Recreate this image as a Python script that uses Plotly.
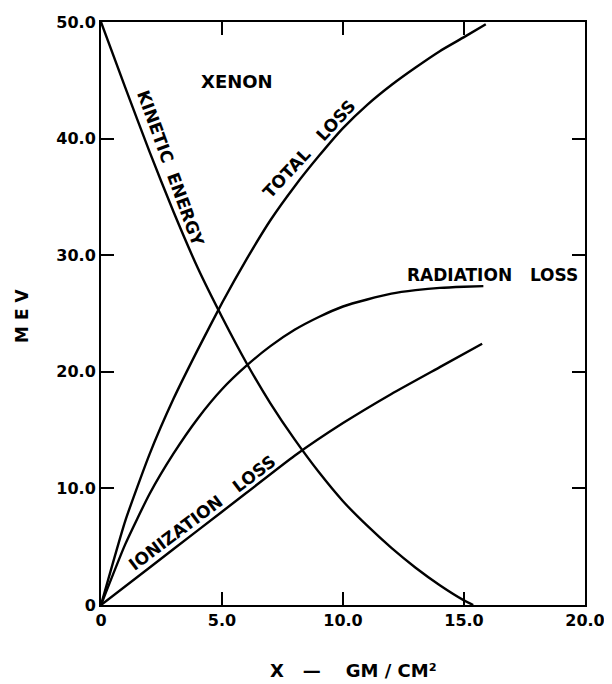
import plotly.graph_objects as go

# Data (x in gm/cm^2, energy in MeV)
ke_x = [0, 1, 2, 3, 4, 5, 6, 7, 8, 9, 10, 11, 12, 13, 14, 15, 15.38]
ke_y = [50, 44.4, 38.9, 33.7, 28.9, 24.7, 20.8, 17.3, 14.2, 11.4, 8.9, 6.8, 4.9, 3.2, 1.7, 0.4, 0]

total_x = [0, 1, 2, 3, 4, 5, 6, 7, 8, 9, 10, 11, 12, 13, 14, 15, 15.9]
total_y = [0, 7.2, 12.9, 17.7, 21.9, 25.9, 29.6, 33.0, 35.9, 38.5, 40.9, 42.9, 44.6, 46.1, 47.5, 48.7, 49.8]

rad_x = [0, 1, 2, 3, 4, 5, 6, 7, 8, 9, 10, 11, 12, 13, 14, 15, 15.8]
rad_y = [0, 5.2, 9.5, 13.0, 16.0, 18.5, 20.5, 22.2, 23.6, 24.7, 25.6, 26.2, 26.7, 27.0, 27.2, 27.3, 27.35]

ion_x = [0, 2, 4, 6, 8, 10, 12, 14, 15.75]
ion_y = [0, 3.2, 6.4, 9.6, 12.8, 15.6, 18.1, 20.4, 22.4]

x_ticks = [0, 5, 10, 15, 20]
x_tick_labels = ["0", "5.0", "10.0", "15.0", "20.0"]
y_ticks = [0, 10, 20, 30, 40, 50]
y_tick_labels = ["0", "10.0", "20.0", "30.0", "40.0", "50.0"]

FONT = "DejaVu Sans"
line_style = dict(color="black", width=2.4, shape="spline", smoothing=0.5)

fig = go.Figure()
for xs, ys, name in [(ke_x, ke_y, "Kinetic energy"), (total_x, total_y, "Total loss"),
                     (rad_x, rad_y, "Radiation loss"), (ion_x, ion_y, "Ionization loss")]:
    fig.add_trace(go.Scatter(x=xs, y=ys, mode="lines", line=line_style, name=name,
                             showlegend=False, hoverinfo="skip"))

lab_font = dict(family=FONT, size=17, color="black", weight="bold")
annots = [
    dict(x=5.62, y=44.9, text="XENON", textangle=0,
         font=dict(family=FONT, size=18, color="black", weight="bold")),
    dict(x=2.89, y=37.4, text="KINETIC  ENERGY", textangle=70, font=lab_font),
    dict(x=8.6, y=39.1, text="TOTAL   LOSS", textangle=-47, font=lab_font),
    dict(x=16.16, y=28.3, text="RADIATION   LOSS", textangle=0, font=lab_font),
    dict(x=4.17, y=7.9, text="IONIZATION   LOSS", textangle=-37, font=lab_font),
]
for a in annots:
    fig.add_annotation(xref="x", yref="y", showarrow=False, **a)

title_font = dict(family=FONT, size=18, color="black", weight="bold")
fig.add_annotation(xref="paper", yref="paper", x=0.521, y=-0.1115, text="X   \u2014    GM / CM\u00b2",
                   showarrow=False, xanchor="center", yanchor="middle", font=title_font)
fig.add_annotation(xref="paper", yref="paper", x=-0.163, y=0.496, text="M E V", textangle=-90,
                   showarrow=False, xanchor="center", yanchor="middle",
                   font=dict(family=FONT, size=17, color="black", weight="bold"))

axis_common = dict(showline=True, linecolor="black", linewidth=2, mirror="ticks",
                   ticks="inside", ticklen=13, tickwidth=1.8, tickcolor="black",
                   showgrid=False, zeroline=False,
                   tickfont=dict(family=FONT, size=16, color="black", weight="bold"))

fig.update_xaxes(range=[0, 20], tickvals=x_ticks, ticktext=x_tick_labels, **axis_common)
fig.update_yaxes(range=[0, 50], tickvals=y_ticks, ticktext=y_tick_labels, **axis_common)

fig.update_layout(width=604, height=676, margin=dict(l=93, r=27, t=14, b=79, autoexpand=False),
                  plot_bgcolor="white", paper_bgcolor="white", showlegend=False)

fig.write_html("out.html")
